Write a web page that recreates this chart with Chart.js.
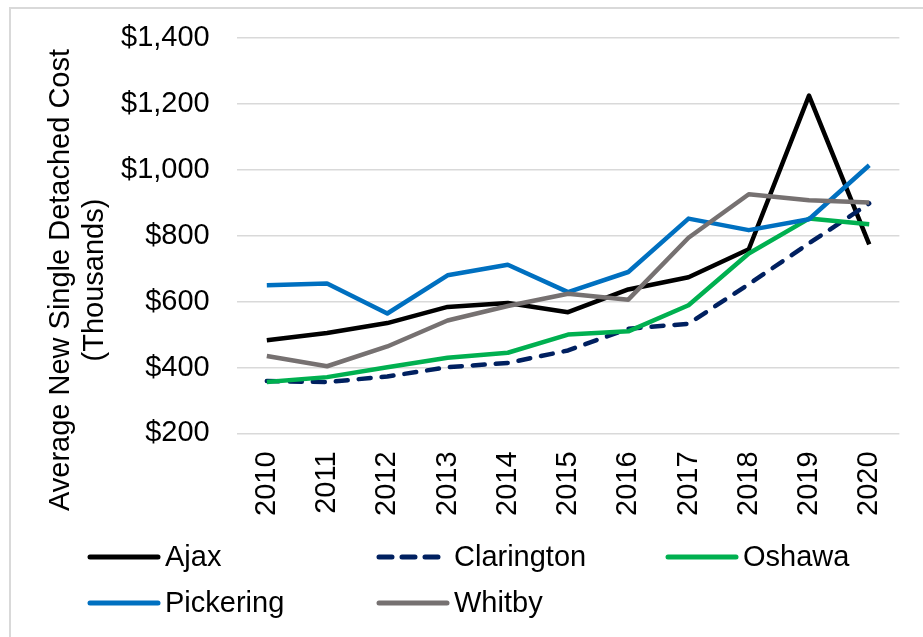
<!DOCTYPE html>
<html>
<head>
<meta charset="utf-8">
<script src="https://cdn.jsdelivr.net/npm/chart.js@4.4.1/dist/chart.umd.min.js"></script>
<style>
  html, body { margin: 0; padding: 0; background: #fff; }
  #wrap { position: relative; width: 923px; height: 637px; }
</style>
</head>
<body>
<div id="wrap"><canvas id="costChart" width="923" height="637"></canvas></div>
<script>
// chart data
const years = ['2010', '2011', '2012', '2013', '2014', '2015', '2016', '2017', '2018', '2019', '2020'];
const ajax = [483, 505, 535, 584, 596, 568, 637, 674, 759, 1225, 774];
const clarington = [359, 356, 373, 401, 414, 452, 518, 533, 653, 777, 898];
const oshawa = [356, 371, 401, 430, 445, 500, 510, 589, 746, 852, 835];
const pickering = [650, 655, 564, 680, 712, 629, 690, 852, 817, 850, 1014];
const whitby = [435, 404, 464, 543, 587, 624, 606, 794, 926, 908, 901];
const yTitle = ['Average New Single Detached Cost', '(Thousands)'];

const FONT = "'Liberation Sans', Arial, sans-serif";

function series(label, data, color, order, dash) {
    return {
        label: label,
        data: data,
        borderColor: color,
        backgroundColor: color,
        borderWidth: 4.5,
        borderDash: dash || [],
        borderCapStyle: dash ? 'round' : 'butt',
        borderJoinStyle: 'round',
        pointRadius: 0,
        tension: 0,
        order: order
    };
}

const datasets = [
    series('Ajax', ajax, '#000000', 5),
    series('Clarington', clarington, '#002060', 4, [12, 11]),
    series('Oshawa', oshawa, '#00B050', 3),
    series('Pickering', pickering, '#0070C0', 2),
    series('Whitby', whitby, '#767171', 1)
];

// frame, rotated axis title and a grid-style legend like the original
const decorations = {
    id: 'decorations',
    beforeDraw(chart) {
        const ctx = chart.ctx;
        ctx.save();
        ctx.strokeStyle = '#d9d9d9';
        ctx.lineWidth = 2;
        ctx.strokeRect(10, 8, 940, 660);
        ctx.restore();
    },
    afterDraw(chart) {
        const ctx = chart.ctx;
        ctx.save();
        ctx.fillStyle = '#000';
        ctx.font = '29px ' + FONT;
        ctx.textAlign = 'center';
        ctx.textBaseline = 'middle';
        ctx.translate(61, 280);
        ctx.rotate(-Math.PI / 2);
        ctx.fillText(yTitle[0], 0, 0);
        ctx.fillText(yTitle[1], 0, 34);
        ctx.restore();

        // legend, three columns
        const cols = [88, 377, 666];
        const rows = [557, 603];
        chart.data.datasets.forEach((ds, i) => {
            const x = cols[i % 3];
            const y = rows[Math.floor(i / 3)];
            ctx.save();
            ctx.strokeStyle = ds.borderColor;
            ctx.lineWidth = 5;
            ctx.lineCap = 'round';
            ctx.setLineDash(ds.borderDash.length ? [13, 10] : []);
            ctx.beginPath();
            ctx.moveTo(x + 2, y);
            ctx.lineTo(x + 70, y);
            ctx.stroke();
            ctx.setLineDash([]);
            ctx.fillStyle = '#000';
            ctx.font = '29px ' + FONT;
            ctx.textAlign = 'left';
            ctx.textBaseline = 'middle';
            ctx.fillText(ds.label, x + 77, y + 1);
            ctx.restore();
        });
    }
};

new Chart(document.getElementById('costChart'), {
    type: 'line',
    data: { labels: years, datasets: datasets },
    options: {
        responsive: false,
        animation: false,
        layout: { padding: { left: 121, right: 21, top: 38, bottom: 103 } },
        plugins: {
            legend: { display: false },
            tooltip: { enabled: false }
        },
        scales: {
            x: {
                offset: true,
                grid: { display: false, drawTicks: false },
                border: { display: false },
                ticks: {
                    color: '#000',
                    font: { family: FONT, size: 29 },
                    minRotation: 90,
                    maxRotation: 90,
                    padding: 18
                }
            },
            y: {
                min: 200,
                max: 1400,
                grid: {
                    color: '#d9d9d9',
                    lineWidth: 1.5,
                    drawTicks: true,
                    tickLength: 27,
                    tickColor: 'rgba(0,0,0,0)'
                },
                border: { display: false },
                ticks: {
                    stepSize: 200,
                    color: '#000',
                    font: { family: FONT, size: 29 },
                    padding: 0,
                    callback: v => '$' + v.toLocaleString('en-US')
                }
            }
        }
    },
    plugins: [decorations]
});
</script>
</body>
</html>
